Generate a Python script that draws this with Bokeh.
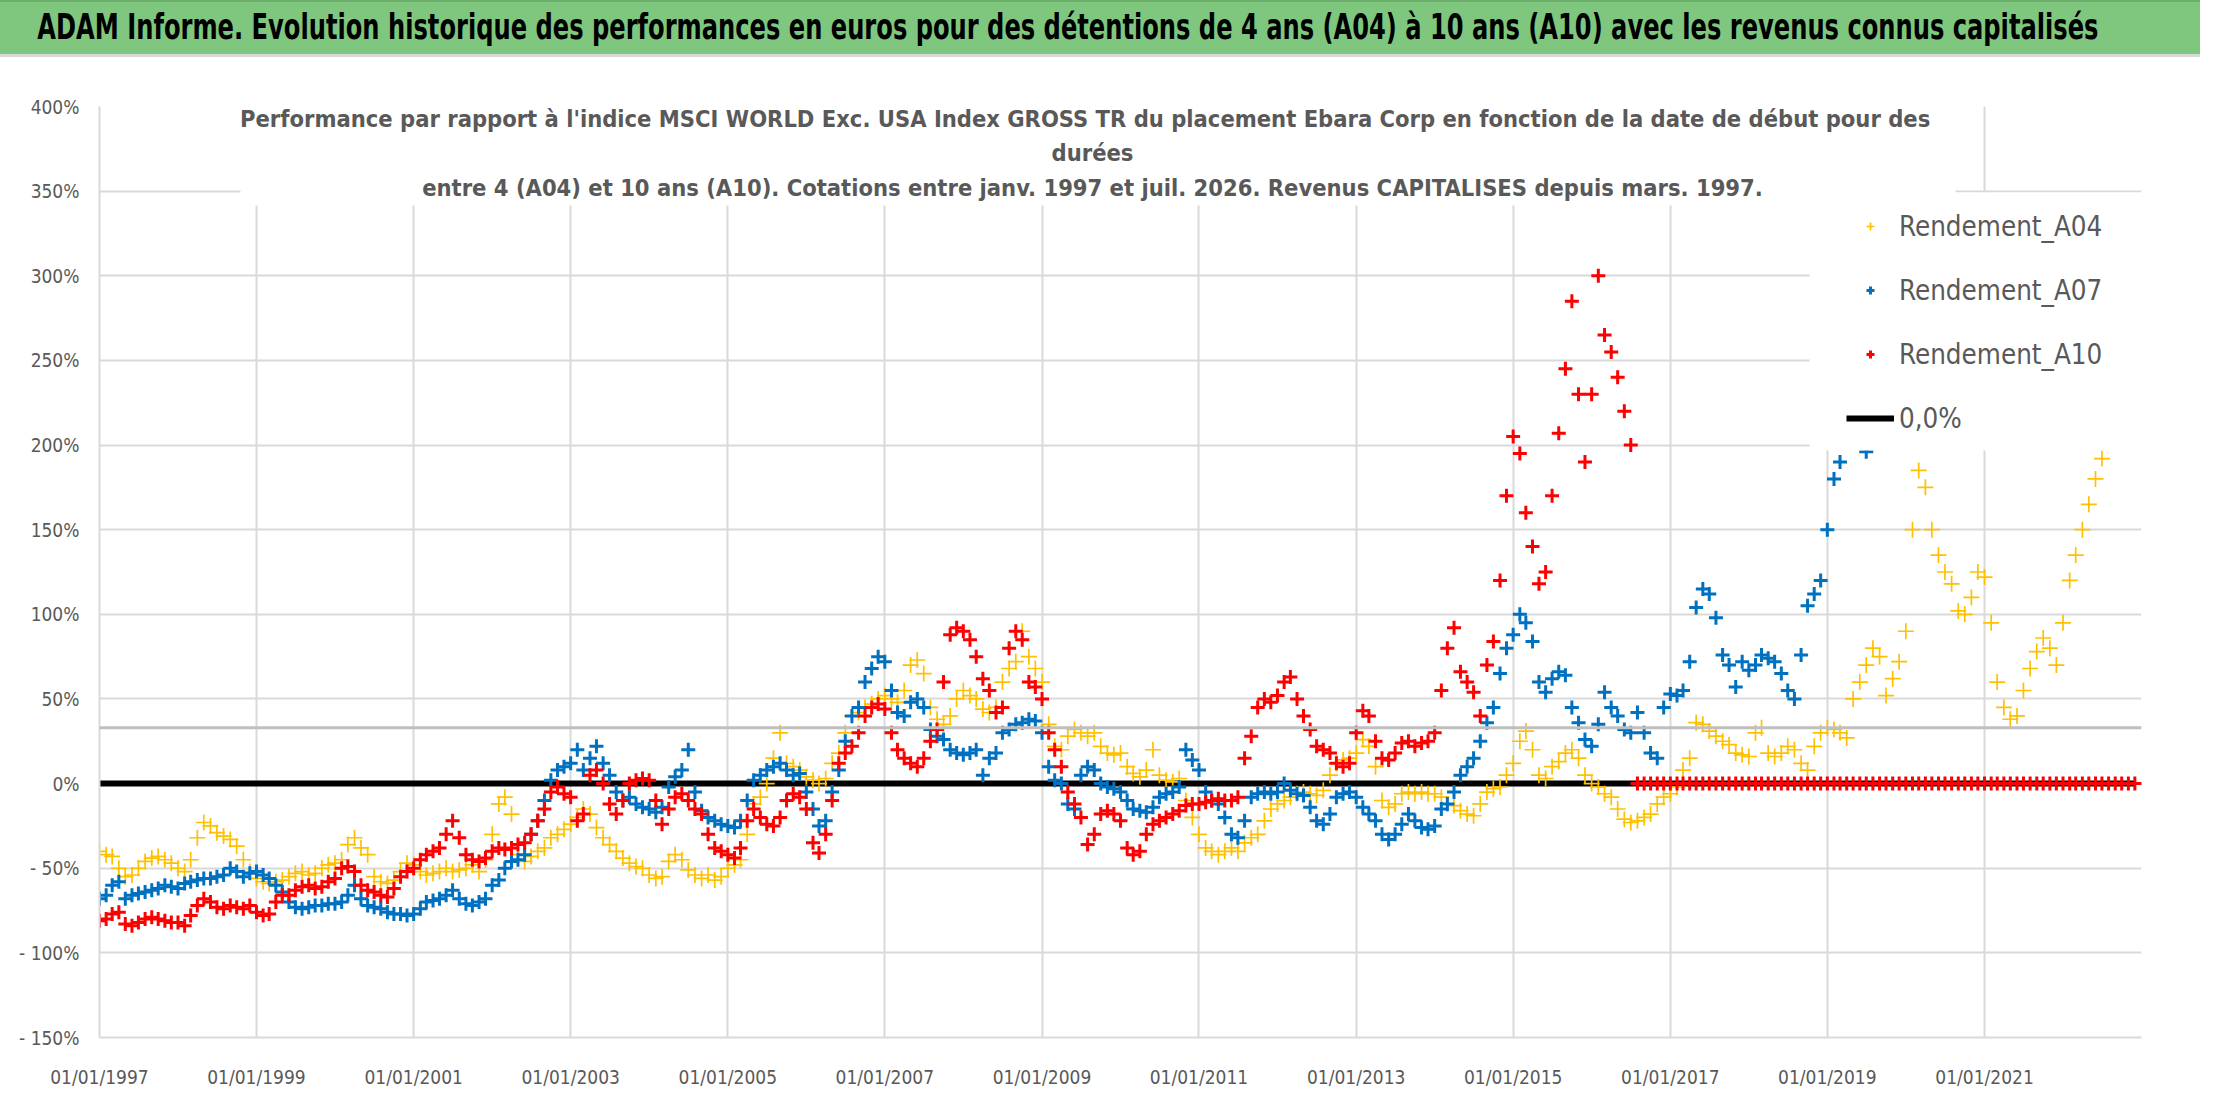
import pandas as pd
from bokeh.plotting import figure
from bokeh.layouts import column
from bokeh.models import (Range1d, FixedTicker, DatetimeTickFormatter, Legend,
                          LegendItem, Label, Span, Div, BoxAnnotation)
from bokeh.embed import file_html
from bokeh.resources import INLINE

FONT = "'DejaVu Sans Condensed', 'Liberation Sans Narrow', 'Open Sans', sans-serif"
GREY = "#595959"

title_txt = ("ADAM Informe. Evolution historique des performances en euros pour des "
             "détentions de 4 ans (A04) à 10 ans (A10) avec les revenus connus capitalisés")
subtitle_lines = [
    "Performance  par rapport à l'indice MSCI WORLD Exc. USA Index GROSS TR  du placement "
    "Ebara Corp en fonction de la date de début pour des",
    "durées",
    "entre 4 (A04) et 10 ans (A10). Cotations entre janv. 1997 et juil. 2026. "
    "Revenus CAPITALISES depuis mars. 1997.",
]

# monthly readings (%), one row per year starting jan. 1997
a04 = [
    -40, -42, -43, -50, -55, -54, -50, -46, -44, -43, -45, -47,   # 1997
    -50, -52, -45, -32, -23, -25, -29, -31, -33, -37, -45, -52,   # 1998
    -56, -58, -59, -58, -57, -55, -53, -52, -54, -53, -50, -48,   # 1999
    -47, -45, -36, -32, -38, -42, -55, -58, -59, -57, -52, -47,   # 2000
    -48, -52, -54, -53, -52, -50, -52, -51, -50, -48, -52, -45,   # 2001
    -30, -12, -8, -18, -42, -46, -43, -40, -38, -32, -30, -27,    # 2002
    -24, -20, -15, -18, -26, -32, -36, -40, -44, -47, -49, -50,   # 2003
    -54, -56, -55, -46, -42, -45, -51, -54, -56, -54, -57, -55,   # 2004
    -50, -48, -45, -30, -12, -8, 0, 15, 30, 12, 10, 8,            # 2005
    4, 2, 0, 3, 12, 18, 30, 40, 42, 45, 47, 50,                   # 2006
    52, 50, 48, 55, 70, 73, 65, 45, 38, 35, 40, 50,               # 2007
    55, 52, 50, 44, 42, 45, 60, 68, 72, 90, 75, 68,               # 2008
    60, 35, 22, 20, 28, 32, 30, 28, 30, 22, 18, 17,               # 2009
    18, 10, 6, 4, 8, 20, 5, 2, 1, 3, -10, -20,                    # 2010
    -30, -38, -40, -42, -40, -38, -40, -35, -32, -30, -22, -15,   # 2011
    -12, -10, -8, -6, -5, -6, -7, -4, 5, 12, 14, 15,              # 2012
    18, 26, 22, 10, -10, -14, -12, -6, -5, -6, -5, -6,            # 2013
    -6, -8, -12, -13, -16, -18, -19, -12, -5, -3, -2, 5,          # 2014
    12, 25, 31, 20, 5, 3, 10, 13, 18, 20, 15, 5,                  # 2015
    0, -2, -6, -8, -15, -21, -23, -22, -20, -18, -12, -8,         # 2016
    -6, -2, 8, 15, 36, 35, 31, 28, 25, 23, 18, 17,                # 2017
    16, 30, 33, 18, 16, 18, 22, 20, 12, 8, 22, 30,                # 2018
    33, 32, 30, 27, 50, 60, 70, 80, 75, 52, 62, 72,               # 2019
    90, 150, 185, 175, 150, 135, 125, 118, 102, 100, 110, 125,    # 2020
    122, 95, 60, 45, 38, 40, 55, 68, 78, 86, 80, 70,              # 2021
    95, 120, 135, 150, 165, 180, 192,                             # 2022
]
a07 = [
    -68, -66, -60, -58, -68, -66, -65, -64, -63, -62, -60, -61,   # 1997
    -62, -59, -58, -57, -56, -56, -55, -54, -50, -52, -55, -53,   # 1998
    -52, -54, -56, -60, -64, -70, -73, -74, -73, -72, -72, -71,   # 1999
    -71, -70, -66, -60, -68, -72, -73, -74, -76, -77, -77, -78,   # 2000
    -77, -74, -70, -69, -68, -66, -63, -68, -71, -72, -70, -68,   # 2001
    -60, -57, -50, -46, -45, -42, -30, -22, -10, 2, 8, 10,        # 2002
    12, 20, 8, 15, 22, 12, 5, -5, -10, -8, -12, -14,              # 2003
    -15, -17, -14, -2, 4, 8, 20, -5, -16, -20, -22, -24,          # 2004
    -25, -26, -22, -10, 2, 5, 8, 10, 12, 8, 5, 6,                 # 2005
    -5, -15, -25, -22, -5, 8, 25, 40, 45, 60, 68, 75,             # 2006
    72, 55, 42, 40, 48, 50, 45, 32, 28, 26, 20, 18,               # 2007
    17, 18, 20, 5, 15, 18, 30, 32, 35, 36, 38, 37,                # 2008
    30, 10, 2, 0, -12, -15, 5, 10, 8, 0, -2, -3,                  # 2009
    -5, -10, -15, -16, -17, -14, -8, -6, -5, -2, 20, 14,          # 2010
    8, -5, -10, -12, -20, -30, -32, -22, -8, -6, -5, -6,          # 2011
    -5, 0, -4, -6, -7, -14, -22, -24, -18, -8, -6, -5,            # 2012
    -8, -14, -18, -22, -30, -33, -30, -24, -18, -22, -26, -27,    # 2013
    -25, -15, -12, -5, 5, 10, 15, 25, 36, 45, 65, 80,             # 2014
    88, 100, 95, 84, 60, 54, 62, 66, 64, 45, 36, 26,              # 2015
    22, 35, 54, 45, 40, 32, 30, 42, 30, 18, 15, 45,               # 2016
    53, 52, 55, 72, 104, 115, 112, 98, 76, 70, 57, 72,            # 2017
    67, 70, 76, 74, 72, 65, 55, 50, 76, 105, 112, 120,            # 2018
    150, 180, 190, 205, 215, 220, 196,                            # 2019
]
a10 = [
    -81, -80, -77, -76, -83, -84, -82, -80, -79, -80, -81, -82,   # 1997
    -82, -84, -78, -72, -68, -70, -73, -74, -72, -73, -74, -72,   # 1998
    -76, -78, -77, -70, -66, -66, -63, -61, -60, -62, -61, -58,   # 1999
    -56, -50, -49, -52, -60, -63, -64, -66, -67, -62, -55, -52,   # 2000
    -50, -45, -42, -40, -38, -30, -22, -32, -42, -45, -46, -44,   # 2001
    -40, -38, -39, -38, -36, -35, -30, -22, -15, -5, -2, -6,      # 2002
    -8, -22, -18, 5, 8, 0, -12, -18, -10, 0, 2, 3,                # 2003
    2, -10, -24, -15, -8, -6, -10, -15, -18, -30, -38, -40,       # 2004
    -42, -44, -38, -22, -15, -20, -24, -25, -20, -10, -6, -8,     # 2005
    -15, -35, -41, -30, -10, 12, 18, 22, 30, 40, 45, 47,          # 2006
    44, 30, 20, 15, 12, 10, 15, 25, 32, 60, 88, 92,               # 2007
    90, 85, 75, 62, 55, 42, 45, 80, 90, 85, 60, 57,               # 2008
    50, 30, 20, 10, -5, -12, -20, -36, -30, -18, -16, -18,        # 2009
    -22, -38, -42, -40, -30, -24, -22, -20, -18, -16, -13, -12,   # 2010
    -12, -11, -10, -9, -10, -10, -8, 15, 28, 45, 50, 48,          # 2011
    52, 60, 63, 50, 40, 32, 22, 20, 18, 12, 10, 12,               # 2012
    30, 43, 40, 25, 15, 14, 18, 24, 25, 22, 24, 25,               # 2013
    30, 55, 80, 92, 66, 60, 54, 40, 70, 84, 120, 170,             # 2014
    205, 195, 160, 140, 118, 125, 170, 207, 245, 285, 230, 190,   # 2015
    230, 300, 265, 255, 240, 220, 200,                            # 2016 jan-jul
    0, 0, 0, 0, 0,                                                # 2016 aug-dec
    0, 0, 0, 0, 0, 0, 0, 0, 0, 0, 0, 0,                           # 2017
    0, 0, 0, 0, 0, 0, 0, 0, 0, 0, 0, 0,                           # 2018
    0, 0, 0, 0, 0, 0, 0, 0, 0, 0, 0, 0,                           # 2019
    0, 0, 0, 0, 0, 0, 0, 0, 0, 0, 0, 0,                           # 2020
    0, 0, 0, 0, 0, 0, 0, 0, 0, 0, 0, 0,                           # 2021
    0, 0, 0, 0, 0, 0, 0, 0, 0, 0, 0, 0,                           # 2022
]
zero_dates = ["1997-01-01", "2022-12-01"]
zero_vals = [0, 0]
ref_level = 33   # darker grey rule across the chart

x_start, x_end = "1997-01-01", "2023-01-01"
tick_years = [1997, 1999, 2001, 2003, 2005, 2007, 2009, 2011, 2013, 2015, 2017, 2019, 2021]
y_ticks = [-150, -100, -50, 0, 50, 100, 150, 200, 250, 300, 350, 400]
y_labels = ["- 150%", "- 100%", "- 50%", "0%", "50%", "100%", "150%", "200%",
            "250%", "300%", "350%", "400%"]


def months(n):
    return pd.date_range("1997-01-01", periods=n, freq="MS")


# ---- green banner (html div; squeezed horizontally like the narrow original font)
banner_html = ('<div style="font-family: %s; font-weight: bold; font-size: 36px; '
               'color: black; line-height: 50px; padding-left: 50px; white-space: nowrap; '
               'transform: scaleX(0.746); transform-origin: 0 50%%;">%s</div>'
               % (FONT.replace("'", ""), title_txt))
banner = Div(text=banner_html, width=2200, height=57, margin=0,
             styles={"background-color": "#7FC77F", "box-sizing": "border-box",
                     "border-top": "2px solid #6AAE6A",
                     "border-bottom": "3px solid #D9D9D9", "overflow": "hidden"})

# ---- main chart
p = figure(width=2200, height=1037, x_axis_type="datetime",
           x_range=Range1d(pd.Timestamp(x_start), pd.Timestamp(x_end)),
           y_range=Range1d(-150, 400), toolbar_location=None, output_backend="svg",
           min_border_left=99, min_border_right=59, min_border_top=49, min_border_bottom=57)
p.outline_line_color = None
p.background_fill_color = "white"

p.xaxis.ticker = FixedTicker(ticks=[pd.Timestamp(f"{y}-01-01").timestamp() * 1000 for y in tick_years])
fmt = "%d/%m/%Y"
p.xaxis.formatter = DatetimeTickFormatter(years=fmt, months=fmt, days=fmt, hours=fmt,
                                          hourmin=fmt, minutes=fmt, minsec=fmt, seconds=fmt,
                                          milliseconds=fmt, microseconds=fmt)
p.yaxis.ticker = FixedTicker(ticks=y_ticks)
p.yaxis.major_label_overrides = dict(zip(y_ticks, y_labels))
for ax in (p.xaxis, p.yaxis):
    ax.axis_line_color = "#D9D9D9"
    ax.axis_line_width = 2
    ax.major_tick_line_color = None
    ax.minor_tick_line_color = None
    ax.major_label_text_font = FONT
    ax.major_label_text_font_size = "19px"
    ax.major_label_text_color = GREY
p.yaxis.major_label_standoff = 14
p.xaxis.major_label_standoff = 22
p.xgrid.grid_line_color = "#D9D9D9"
p.ygrid.grid_line_color = "#D9D9D9"
p.xgrid.grid_line_width = 2
p.ygrid.grid_line_width = 2

p.add_layout(Span(location=ref_level, dimension="width", line_color="#BFBFBF", line_width=3))

r_zero = p.line(pd.to_datetime(zero_dates), zero_vals, line_color="black", line_width=6)
r04 = p.scatter(months(len(a04)), a04, marker="cross", size=16, line_width=1.7,
                line_color="#FFC000")
r07 = p.scatter(months(len(a07)), a07, marker="cross", size=14, line_width=3,
                line_color="#0070C0")
r10 = p.scatter(months(len(a10)), a10, marker="cross", size=14, line_width=3,
                line_color="#FF0000")

# white boxes behind the subtitle and the legend (frame pixels, y from the frame bottom)
for l, r, t, b in [(141, 1856, 931, 832), (1710, 2042, 845, 587)]:
    p.add_layout(BoxAnnotation(left=l, right=r, top=t, bottom=b,
                               left_units="screen", right_units="screen",
                               top_units="screen", bottom_units="screen",
                               fill_color="white", fill_alpha=1.0, line_color=None))
for txt, yy in zip(subtitle_lines, [919, 885, 850]):
    p.add_layout(Label(x=993, y=yy, x_units="screen", y_units="screen", text=txt,
                       text_font=FONT, text_font_style="bold", text_font_size="23.5px",
                       text_color=GREY, text_align="center", text_baseline="middle"))

legend = Legend(items=[LegendItem(label="Rendement_A04", renderers=[r04]),
                       LegendItem(label="Rendement_A07", renderers=[r07]),
                       LegendItem(label="Rendement_A10", renderers=[r10]),
                       LegendItem(label="0,0%", renderers=[r_zero])],
                location=(1747, 599), padding=13, spacing=24, label_height=40,
                glyph_height=20, glyph_width=48, label_standoff=5,
                label_text_font=FONT, label_text_font_size="27.5px",
                label_text_color=GREY, border_line_color=None,
                background_fill_color="white", background_fill_alpha=1.0)
p.add_layout(legend)

layout = column(banner, p, spacing=0)
open("out.html", "w").write(file_html(layout, INLINE))
